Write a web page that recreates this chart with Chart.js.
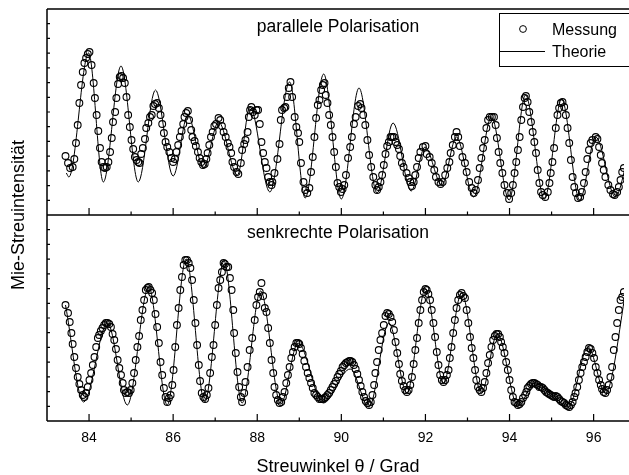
<!DOCTYPE html>
<html>
<head>
<meta charset="utf-8">
<script src="https://cdn.jsdelivr.net/npm/chart.js@4.4.1/dist/chart.umd.min.js"></script>
<style>
  html, body { margin: 0; padding: 0; background: #fff; }
  canvas { display: block; }
</style>
</head>
<body>
<canvas id="grafico" width="629" height="475"></canvas>
<script>
// Achsen
const xMin = 83.0, xMax = 96.72;
const xMajorTicks = [84, 86, 88, 90, 92, 94, 96];
const xMinorTicks = [85, 87, 89, 91, 93, 95];
const yMin = 0, yMax = 206;       // willkürliche Einheiten je Panel
const yTickCount = 14;            // kleine Striche an der linken Achse

// parallele Polarisation: Messung [theta, I]
const parMessung = [
  [83.44,59],[83.50,52],[83.55,47],[83.61,48],[83.65,56],[83.69,72],[83.73,90],[83.77,112],[83.81,130],[83.85,143],
  [83.89,152],[83.93,157],[83.97,161],[84.01,163],[84.06,150],[84.11,132],[84.14,117],[84.18,100],[84.22,84],[84.26,67],
  [84.30,53],[84.34,48],[84.38,47],[84.42,48],[84.46,53],[84.50,63],[84.54,77],[84.57,93],[84.62,103],[84.65,117],
  [84.69,131],[84.73,138],[84.77,139],[84.81,137],[84.85,132],[84.89,118],[84.93,100],[84.97,88],[85.01,75],[85.05,66],
  [85.09,58],[85.13,55],[85.17,53],[85.20,52],[85.24,61],[85.28,67],[85.33,76],[85.36,87],[85.41,92],[85.45,98],
  [85.49,100],[85.53,109],[85.57,111],[85.62,112],[85.66,107],[85.70,100],[85.74,91],[85.78,82],[85.82,73],[85.86,68],
  [85.91,63],[85.96,57],[86.00,53],[86.04,56],[86.08,63],[86.12,70],[86.16,78],[86.20,84],[86.24,91],[86.27,98],
  [86.31,102],[86.35,104],[86.38,95],[86.43,85],[86.46,78],[86.51,74],[86.54,69],[86.59,63],[86.63,57],[86.67,53],
  [86.71,50],[86.75,51],[86.79,56],[86.82,62],[86.86,70],[86.90,78],[86.94,83],[86.98,89],[87.02,91],[87.08,97],
  [87.12,95],[87.16,89],[87.20,83],[87.25,78],[87.30,72],[87.34,68],[87.38,62],[87.41,53],[87.45,48],[87.51,43],
  [87.55,41],[87.61,52],[87.64,65],[87.69,71],[87.72,75],[87.77,83],[87.80,98],[87.83,105],[87.86,108],[87.90,103],
  [87.94,100],[87.98,105],[88.02,105],[88.06,91],[88.10,73],[88.14,62],[88.18,53],[88.22,47],[88.26,38],[88.30,33],
  [88.34,30],[88.36,33],[88.41,42],[88.48,56],[88.53,71],[88.56,95],[88.59,105],[88.64,107],[88.67,108],[88.71,118],
  [88.75,127],[88.79,133],[88.83,118],[88.89,98],[88.93,88],[88.97,82],[89.00,73],[89.04,52],[89.10,33],[89.14,25],
  [89.19,22],[89.24,27],[89.28,43],[89.32,58],[89.36,78],[89.40,97],[89.44,110],[89.48,115],[89.52,125],[89.56,130],
  [89.60,132],[89.63,120],[89.67,112],[89.71,100],[89.75,90],[89.79,78],[89.83,63],[89.87,48],[89.91,32],[89.95,28],
  [89.99,23],[90.03,26],[90.07,30],[90.11,40],[90.16,57],[90.21,68],[90.25,78],[90.30,91],[90.34,98],[90.40,109],
  [90.45,111],[90.48,107],[90.52,100],[90.57,90],[90.62,75],[90.66,60],[90.71,48],[90.76,38],[90.81,30],[90.85,25],
  [90.89,28],[90.93,33],[90.97,40],[91.01,50],[91.05,61],[91.09,69],[91.13,73],[91.17,78],[91.21,78],[91.25,78],
  [91.29,73],[91.33,70],[91.37,66],[91.40,59],[91.44,52],[91.48,48],[91.55,42],[91.60,37],[91.64,33],[91.68,29],
  [91.72,33],[91.76,40],[91.80,48],[91.84,57],[91.88,63],[91.94,68],[92.00,69],[92.03,61],[92.10,58],[92.15,52],
  [92.21,45],[92.25,38],[92.31,33],[92.36,31],[92.41,33],[92.47,40],[92.52,47],[92.57,53],[92.60,62],[92.65,70],
  [92.70,78],[92.74,83],[92.78,78],[92.82,69],[92.88,58],[92.94,52],[92.98,43],[93.04,33],[93.10,27],[93.15,22],
  [93.20,25],[93.25,35],[93.29,47],[93.33,57],[93.37,67],[93.41,75],[93.45,87],[93.49,95],[93.53,98],[93.58,98],
  [93.63,98],[93.67,90],[93.70,77],[93.74,63],[93.78,52],[93.83,42],[93.88,30],[93.94,22],[93.99,16],[94.04,22],
  [94.08,30],[94.12,42],[94.16,53],[94.20,65],[94.24,78],[94.28,95],[94.32,108],[94.36,117],[94.39,119],[94.43,113],
  [94.47,103],[94.51,93],[94.55,83],[94.59,73],[94.63,62],[94.67,45],[94.71,32],[94.75,23],[94.79,20],[94.85,18],
  [94.91,23],[94.95,32],[94.98,42],[95.02,53],[95.06,67],[95.10,87],[95.14,100],[95.18,107],[95.22,112],[95.26,113],
  [95.30,108],[95.34,100],[95.38,87],[95.42,72],[95.46,55],[95.50,38],[95.54,28],[95.58,22],[95.63,17],[95.68,18],
  [95.72,23],[95.77,32],[95.81,43],[95.85,56],[95.89,65],[95.93,72],[95.97,75],[96.05,78],[96.09,76],[96.13,68],
  [96.17,60],[96.20,52],[96.24,45],[96.28,38],[96.35,30],[96.40,25],[96.46,21],[96.50,20],[96.56,23],[96.60,28],
  [96.64,35],[96.68,43],[96.72,47]
];

// parallele Polarisation: Theorie (Extrema der Kurve)
const parTheorie = [
  [83.46,42],[83.52,38],[83.99,162],[84.34,33],[84.76,149],[85.17,33],[85.58,125],[86.00,39],[86.35,100],[86.72,47],
  [87.08,93],[87.53,40],[87.83,108],[88.30,23],[88.77,133],[89.14,17],[89.58,141],[90.00,16],[90.42,127],[90.85,22],
  [91.23,92],[91.66,24],[91.99,68],[92.39,30],[92.74,78],[93.15,18],[93.57,98],[93.99,15],[94.38,120],[94.83,16],
  [95.24,116],[95.67,15],[96.05,78],[96.52,18],[96.80,55]
];

// senkrechte Polarisation: Messung
const senkMessung = [
  [83.44,116],[83.50,108],[83.54,99],[83.58,88],[83.61,77],[83.65,64],[83.69,53],[83.73,44],[83.77,37],[83.81,31],
  [83.85,26],[83.89,24],[83.93,28],[83.97,34],[84.01,41],[84.05,48],[84.09,56],[84.13,64],[84.17,74],[84.21,83],
  [84.24,86],[84.28,90],[84.32,93],[84.36,96],[84.40,98],[84.44,98],[84.48,97],[84.52,94],[84.56,87],[84.60,81],
  [84.64,72],[84.68,61],[84.72,53],[84.76,46],[84.80,38],[84.83,31],[84.87,28],[84.91,29],[84.95,28],[84.99,31],
  [85.03,38],[85.07,48],[85.11,61],[85.15,74],[85.19,85],[85.23,101],[85.27,111],[85.31,121],[85.35,131],[85.39,133],
  [85.42,134],[85.46,131],[85.50,128],[85.54,121],[85.58,107],[85.62,94],[85.66,78],[85.70,59],[85.74,46],[85.78,33],
  [85.82,24],[85.86,19],[85.90,23],[85.94,26],[85.98,36],[86.01,51],[86.05,74],[86.09,96],[86.13,113],[86.17,131],
  [86.21,144],[86.25,156],[86.29,161],[86.33,161],[86.37,158],[86.41,153],[86.45,141],[86.49,121],[86.53,98],[86.57,76],
  [86.61,56],[86.64,40],[86.68,28],[86.72,24],[86.76,22],[86.80,26],[86.84,33],[86.88,48],[86.92,64],[86.96,76],
  [87.00,96],[87.04,116],[87.08,133],[87.12,141],[87.16,149],[87.20,158],[87.23,157],[87.27,154],[87.31,154],[87.35,143],
  [87.39,131],[87.43,111],[87.45,88],[87.49,68],[87.53,49],[87.57,34],[87.61,24],[87.64,19],[87.69,28],[87.72,39],
  [87.77,54],[87.82,71],[87.88,83],[87.94,101],[87.98,116],[88.02,124],[88.06,129],[88.10,138],[88.14,125],[88.18,113],
  [88.22,109],[88.26,93],[88.30,78],[88.34,61],[88.38,48],[88.41,34],[88.45,26],[88.49,21],[88.53,18],[88.57,19],
  [88.61,24],[88.65,29],[88.69,38],[88.73,46],[88.77,54],[88.81,63],[88.85,69],[88.89,74],[88.93,78],[88.97,78],
  [89.00,77],[89.04,73],[89.08,67],[89.12,60],[89.16,54],[89.20,48],[89.24,43],[89.28,38],[89.32,33],[89.36,28],
  [89.40,26],[89.44,24],[89.48,22],[89.52,22],[89.56,22],[89.60,23],[89.63,24],[89.67,26],[89.71,28],[89.75,31],
  [89.79,34],[89.83,37],[89.87,40],[89.91,44],[89.95,47],[89.99,50],[90.03,54],[90.07,56],[90.11,58],[90.15,59],
  [90.19,60],[90.22,60],[90.26,59],[90.30,56],[90.34,52],[90.38,47],[90.42,41],[90.46,35],[90.50,29],[90.54,24],
  [90.58,20],[90.62,18],[90.66,16],[90.70,19],[90.74,26],[90.78,36],[90.81,48],[90.85,59],[90.89,71],[90.93,81],
  [90.97,88],[91.01,96],[91.05,105],[91.09,108],[91.13,107],[91.17,104],[91.21,99],[91.25,91],[91.29,79],[91.33,68],
  [91.37,57],[91.40,47],[91.44,40],[91.48,35],[91.52,31],[91.56,29],[91.60,31],[91.64,36],[91.68,44],[91.72,57],
  [91.76,71],[91.80,83],[91.84,98],[91.88,111],[91.92,121],[91.96,129],[92.00,132],[92.03,131],[92.07,127],[92.11,121],
  [92.15,111],[92.19,98],[92.23,84],[92.27,69],[92.31,56],[92.35,46],[92.39,41],[92.43,39],[92.47,41],[92.51,46],
  [92.55,51],[92.58,63],[92.62,74],[92.66,88],[92.70,101],[92.74,113],[92.78,121],[92.82,126],[92.86,128],[92.90,125],
  [92.94,123],[92.98,111],[93.02,98],[93.06,84],[93.10,73],[93.14,63],[93.18,51],[93.21,41],[93.25,34],[93.29,31],
  [93.33,29],[93.37,33],[93.41,39],[93.45,48],[93.49,58],[93.53,66],[93.57,74],[93.61,81],[93.65,85],[93.69,87],
  [93.73,87],[93.77,84],[93.80,79],[93.84,74],[93.88,68],[93.92,59],[93.96,51],[94.00,41],[94.04,31],[94.08,24],
  [94.12,19],[94.16,18],[94.20,16],[94.24,17],[94.28,19],[94.32,23],[94.37,26],[94.40,29],[94.43,33],[94.47,35],
  [94.51,37],[94.55,38],[94.59,38],[94.63,37],[94.67,36],[94.71,34],[94.75,34],[94.79,33],[94.83,31],[94.87,29],
  [94.91,28],[94.94,27],[94.98,26],[95.02,25],[95.06,24],[95.10,25],[95.14,24],[95.18,22],[95.22,20],[95.26,19],
  [95.30,18],[95.34,16],[95.38,15],[95.42,14],[95.46,16],[95.50,19],[95.54,24],[95.57,28],[95.61,34],[95.65,41],
  [95.69,48],[95.73,54],[95.77,59],[95.81,64],[95.85,69],[95.89,73],[95.93,72],[95.97,68],[96.01,63],[96.05,54],
  [96.09,48],[96.13,41],[96.17,36],[96.20,32],[96.24,29],[96.28,28],[96.32,31],[96.36,36],[96.40,44],[96.44,54],
  [96.48,71],[96.52,84],[96.56,98],[96.60,111],[96.64,121],[96.68,124],[96.72,129]
];

// senkrechte Polarisation: Theorie
const senkTheorie = [
  [83.44,116],[83.87,19],[84.44,98],[84.91,16],[85.42,134],[85.86,16],[86.31,162],[86.75,19],[87.21,160],[87.64,18],
  [88.08,130],[88.56,17],[88.97,78],[89.57,18],[90.21,52],[90.66,14],[91.13,98],[91.56,28],[92.00,132],[92.43,38],
  [92.86,128],[93.33,28],[93.71,87],[94.20,15],[94.59,38],[95.00,27],[95.40,14],[95.87,74],[96.28,28],[96.80,138]
];

const schrift = '"Liberation Sans", Arial, sans-serif';
const toXY = arr => arr.map(p => ({ x: p[0], y: p[1] }));

function messDataset(daten, achse) {
  return {
    label: 'Messung',
    data: toXY(daten),
    yAxisID: achse,
    showLine: false,
    pointRadius: 3.4,
    pointBorderWidth: 1.1,
    pointBorderColor: '#000',
    pointBackgroundColor: 'rgba(0,0,0,0)'
  };
}

function theorieDataset(daten, achse) {
  return {
    label: 'Theorie',
    data: toXY(daten),
    yAxisID: achse,
    borderColor: '#000',
    borderWidth: 1,
    pointRadius: 0,
    cubicInterpolationMode: 'monotone',
    fill: false
  };
}

// Rahmen, Striche, Titel und Legende
const rahmen = {
  id: 'rahmen',
  afterDatasetsDraw(chart) {
    const { ctx, chartArea: a, scales } = chart;
    const x = scales.x, yT = scales.yTop, yB = scales.yBot;
    const rechts = chart.width;
    const mitte = yT.bottom;
    ctx.save();
    ctx.strokeStyle = '#000';
    ctx.lineWidth = 1.5;
    ctx.beginPath();
    ctx.moveTo(a.left, a.top); ctx.lineTo(rechts, a.top);
    ctx.moveTo(a.left, mitte); ctx.lineTo(rechts, mitte);
    ctx.moveTo(a.left, a.bottom); ctx.lineTo(rechts, a.bottom);
    ctx.moveTo(a.left, a.top); ctx.lineTo(a.left, a.bottom);
    ctx.stroke();

    // x-Striche nach innen (unten und an der Trennlinie)
    ctx.lineWidth = 1.2;
    ctx.beginPath();
    [mitte, a.bottom].forEach(yy => {
      xMajorTicks.forEach(v => {
        const px = x.getPixelForValue(v);
        ctx.moveTo(px, yy); ctx.lineTo(px, yy - 7);
      });
      xMinorTicks.forEach(v => {
        const px = x.getPixelForValue(v);
        ctx.moveTo(px, yy); ctx.lineTo(px, yy - 3.5);
      });
    });
    // y-Striche links
    [yT, yB].forEach(s => {
      for (let i = 1; i < yTickCount; i++) {
        const py = s.getPixelForValue(yMin + i * (yMax - yMin) / yTickCount);
        ctx.moveTo(a.left, py); ctx.lineTo(a.left + 3, py);
      }
    });
    ctx.stroke();

    // Panel-Titel
    const mx = (a.left + rechts) / 2;
    ctx.fillStyle = '#000';
    ctx.textAlign = 'center';
    ctx.textBaseline = 'alphabetic';
    ctx.font = '17.5px ' + schrift;
    ctx.fillText('parallele Polarisation', mx, a.top + 23);
    ctx.fillText('senkrechte Polarisation', mx, mitte + 23);

    // Achsentitel
    ctx.font = '18px ' + schrift;
    ctx.fillText('Streuwinkel θ / Grad', mx, chart.height - 3);
    ctx.save();
    ctx.translate(19, (a.top + a.bottom) / 2);
    ctx.rotate(-Math.PI / 2);
    ctx.textBaseline = 'middle';
    ctx.fillText('Mie-Streuintensität', 0, 0);
    ctx.restore();

    // Legende
    const lx = 499, ly = 13, lh = 53;
    ctx.fillStyle = '#fff';
    ctx.fillRect(lx, ly, rechts - lx + 5, lh);
    ctx.lineWidth = 1;
    ctx.strokeRect(lx + 0.5, ly + 0.5, rechts - lx + 5, lh);
    ctx.beginPath();
    ctx.arc(lx + 24, ly + 16, 3.4, 0, Math.PI * 2);
    ctx.stroke();
    ctx.beginPath();
    ctx.moveTo(lx, ly + 38.5); ctx.lineTo(lx + 46, ly + 38.5);
    ctx.stroke();
    ctx.fillStyle = '#000';
    ctx.textAlign = 'left';
    ctx.textBaseline = 'alphabetic';
    ctx.font = '16px ' + schrift;
    ctx.fillText('Messung', lx + 53, ly + 22);
    ctx.fillText('Theorie', lx + 53, ly + 44);
    ctx.restore();
  }
};

new Chart(document.getElementById('grafico'), {
  type: 'line',
  data: {
    datasets: [
      theorieDataset(parTheorie, 'yTop'),
      messDataset(parMessung, 'yTop'),
      theorieDataset(senkTheorie, 'yBot'),
      messDataset(senkMessung, 'yBot')
    ]
  },
  options: {
    responsive: false,
    animation: false,
    devicePixelRatio: 1,
    layout: { padding: { left: 47, top: 9, right: 0, bottom: 0 } },
    plugins: { legend: { display: false }, tooltip: { enabled: false } },
    scales: {
      x: {
        type: 'linear',
        min: xMin,
        max: xMax,
        position: 'bottom',
        grid: { display: false, drawTicks: false },
        border: { display: false },
        afterBuildTicks: scale => { scale.ticks = xMajorTicks.map(v => ({ value: v })); },
        afterFit: scale => { scale.height = 54; },
        ticks: {
          autoSkip: false,
          maxRotation: 0,
          padding: 9,
          color: '#000',
          font: { family: schrift, size: 14 },
          callback: v => String(v)
        }
      },
      yBot: {
        type: 'linear', stack: 'panels', stackWeight: 1, position: 'left',
        min: yMin, max: yMax, display: false
      },
      yTop: {
        type: 'linear', stack: 'panels', stackWeight: 1, position: 'left',
        min: yMin, max: yMax, display: false
      }
    }
  },
  plugins: [rahmen]
});
</script>
</body>
</html>
